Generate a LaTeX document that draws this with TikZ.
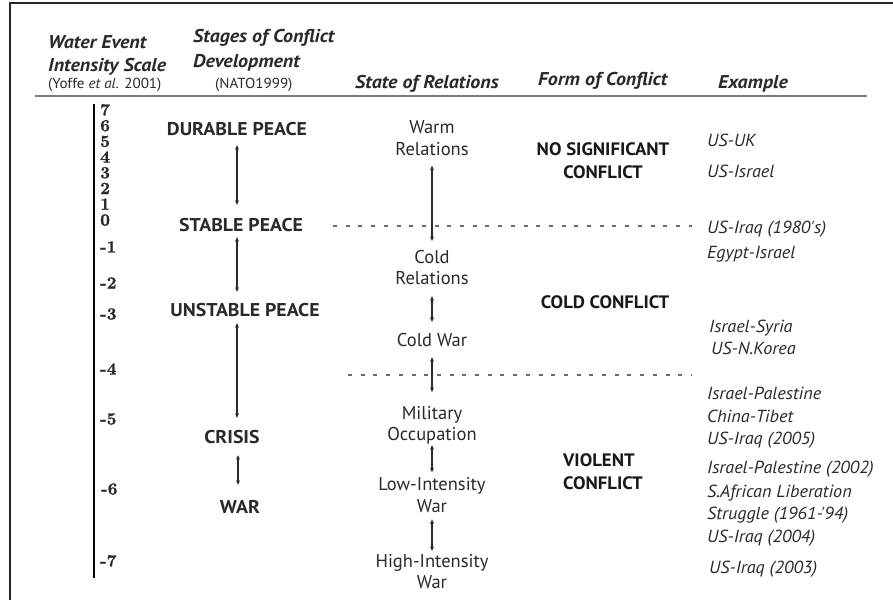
\documentclass[tikz,border=0pt]{standalone}
\usepackage{fontspec}
\newfontfamily\hdrfont[FakeStretch=1.08]{PT Sans}
\newfontfamily\subfont[FakeStretch=1.04]{PT Sans}
\newfontfamily\stagefont[FakeStretch=1.07]{PT Sans}
\newfontfamily\relfont{PT Sans}
\newfontfamily\formfont[FakeStretch=1.04]{PT Sans}
\newfontfamily\exfont[FakeStretch=1.04]{PT Sans}
\newfontfamily\numfont{lmroman10-bold}[Extension=.otf, FakeBold=1.2]
\usetikzlibrary{arrows.meta}
\definecolor{ink}{HTML}{2A2A2A}
\definecolor{rulegray}{HTML}{7C7C7C}
\definecolor{dashgray}{HTML}{6A6A6A}
\begin{document}
\begin{tikzpicture}[x=1pt,y=-1pt,
  hdr/.style={inner sep=0pt, anchor=west, font=\hdrfont\fontsize{18.5}{21}\selectfont\bfseries\itshape, text=ink, text height=13pt, text depth=0pt},
  sub/.style={inner sep=0pt, anchor=west, font=\subfont\fontsize{14.5}{17}\selectfont, text=ink, text height=10.2pt, text depth=0pt},
  num/.style={inner sep=0pt, anchor=west, font=\numfont\fontsize{17}{17}\selectfont, text=ink, text height=11pt, text depth=0pt},
  stage/.style={inner sep=0pt, font=\stagefont\fontsize{18.5}{21}\selectfont\bfseries, text=ink, text height=13pt, text depth=0pt},
  rel/.style={inner sep=0pt, align=center, font=\relfont\fontsize{18.5}{21.5}\selectfont, text=ink},
  relone/.style={inner sep=0pt, font=\relfont\fontsize{18.5}{21.5}\selectfont, text=ink, text height=13pt, text depth=0pt},
  form/.style={inner sep=0pt, font=\formfont\fontsize{18}{23}\selectfont\bfseries, text=black!90},
  ex/.style={inner sep=0pt, anchor=west, font=\exfont\fontsize{17.5}{20}\selectfont\itshape, text=ink, text height=12.2pt, text depth=0pt},
  arr/.style={draw=ink, line width=1.1pt, {Stealth[length=4.5pt,width=4pt]}-{Stealth[length=4.5pt,width=4pt]}},
  dashln/.style={draw=dashgray, line width=1.2pt, dash pattern=on 4pt off 8.7pt}
]
\useasboundingbox (0,0) rectangle (893,600);
\fill[white] (0,0) rectangle (893,600);
% frame (top and left only)
\draw[black!85, line width=2pt] (893,3) -- (10,3) -- (10,600);

% headers
\node[hdr] (h1a) at (48,42) {Water Event};
\node[hdr] (h1b) at (48,65) {Intensity Scale};
\node[sub] (h1c) at (48,83) {(Yoffe \textit{et al.} 2001)};
\node[hdr] (h2a) at (193,36) {Stages of Conflict};
\node[hdr] (h2b) at (193,61) {Development};
\node[sub] (h2c) at (215,83) {(NATO1999)};
\node[hdr] (h3) at (355,82) {State of Relations};
\node[hdr] (h4) at (538,79) {Form of Conflict};
\node[hdr] (h5) at (718,82) {Example};
\draw[rulegray, line width=2pt] (35,96) -- (867,96);

% scale
\draw[black, line width=2pt] (94,104) -- (94,578);
\node[num] (n7) at (100,110) {7};
\node[num] (n6) at (100,125.7) {6};
\node[num] (n5) at (100,141.4) {5};
\node[num] (n4) at (100,157.1) {4};
\node[num] (n3) at (100,172.8) {3};
\node[num] (n2) at (100,188.5) {2};
\node[num] (n1) at (100,204.2) {1};
\node[num] (n0) at (100,220) {0};
\node[num] (m1) at (100,247) {-1};
\node[num] (m2) at (100,283) {-2};
\node[num] (m3) at (100,314) {-3};
\node[num] (m4) at (100,369) {-4};
\node[num] (m5) at (100,419) {-5};
\node[num] (m6) at (101,489) {-6};
\node[num] (m7) at (100,561) {-7};

% stages
\coordinate (sx) at (237,0);
\node[stage] (dp) at (237,129) {DURABLE PEACE};
\node[stage] (sp) at (241,225) {STABLE PEACE};
\node[stage] (up) at (245,310) {UNSTABLE PEACE};
\node[stage] (cr) at (232,437) {CRISIS};
\node[stage] (wa) at (240,507) {WAR};
\draw[arr, shorten <=9.5pt, shorten >=13.5pt] (sx |- dp.south) -- (sx |- sp.north);
\draw[arr, shorten <=5.5pt, shorten >=11.5pt] (sx |- sp.south) -- (sx |- up.north);
\draw[arr, shorten <=6.5pt, shorten >=12.5pt] (sx |- up.south) -- (sx |- cr.north);
\draw[arr, shorten <=11.5pt, shorten >=15.5pt] ([xshift=1pt]sx |- cr.south) -- ([xshift=1pt]sx |- wa.north);

% relations
\coordinate (rx) at (432,0);
\node[rel] (warm) at (432,138.2) {Warm\\Relations};
\node[rel] (cold) at (432,267.5) {Cold\\Relations};
\node[relone] (cw) at (432,340) {Cold War};
\node[rel] (mil) at (432,425.3) {Military\\Occupation};
\node[rel] (low) at (432,494.8) {Low-Intensity\\War};
\node[rel] (high) at (432,571.5) {High-Intensity\\War};
\draw[arr, shorten <=10pt, shorten >=9pt] (rx |- warm.south) -- (rx |- cold.north);
\draw[arr, shorten <=11pt, shorten >=11.5pt] (rx |- cold.south) -- (rx |- cw.north);
\draw[arr, shorten <=10.5pt, shorten >=14pt] (rx |- cw.south) -- (rx |- mil.north);
\draw[arr, shorten <=0.5pt, shorten >=5pt] (rx |- mil.south) -- (rx |- low.north);
\draw[arr, shorten <=7pt, shorten >=3pt] (rx |- low.south) -- (rx |- high.north);

% dashed separators
\draw[dashln] (333,226) -- (692,226);
\draw[dashln] (348,375) -- (692,375);

% forms of conflict
\node[form, align=center] (nsc) at (603,160.5) {NO SIGNIFICANT\\CONFLICT};
\node[form] (ccf) at (605,302) {COLD CONFLICT};
\node[form, align=left, anchor=west] (vcf) at (563,471.5) {VIOLENT\\CONFLICT};

% examples
\node[ex] (e1) at (707,140) {US-UK};
\node[ex] (e2) at (707,171) {US-Israel};
\node[ex] (e3) at (707,227) {US-Iraq (1980's)};
\node[ex] (e4) at (707,252) {Egypt-Israel};
\node[ex] (e5) at (709,326) {Israel-Syria};
\node[ex] (e6) at (711,348) {US-N.Korea};
\node[ex] (e7) at (707,393) {Israel-Palestine};
\node[ex] (e8) at (707,416) {China-Tibet};
\node[ex] (e9) at (707,438) {US-Iraq (2005)};
\node[ex] (e10) at (707,467) {Israel-Palestine (2002)};
\node[ex] (e11) at (707,491) {S.African Liberation};
\node[ex] (e12) at (707,513) {Struggle (1961-'94)};
\node[ex] (e13) at (707,536) {US-Iraq (2004)};
\node[ex] (e14) at (709,567) {US-Iraq (2003)};
\end{tikzpicture}
\end{document}
